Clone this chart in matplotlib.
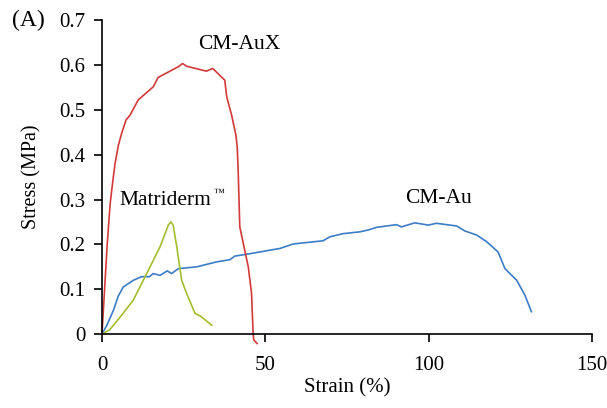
import numpy as np
import matplotlib
matplotlib.use('Agg')
import matplotlib.pyplot as plt

plt.rcParams['font.family'] = ['Liberation Serif', 'DejaVu Serif']

# CM-AuX (red)
auX_strain = [0, 0.8, 1.6, 2.5, 3.3, 4.0, 5.0, 6.0, 7.35, 8.6, 11.1, 15.7, 17.2, 23.4, 24.7, 25.9,
              32.0, 33.9, 37.6, 38.2, 39.7, 41.0, 41.4, 41.7, 42.2, 44.8, 45.8, 46.3, 46.5, 47.5]
auX_stress = [0, 0.10, 0.20, 0.29, 0.34, 0.38, 0.42, 0.447, 0.477, 0.488, 0.522, 0.551, 0.572, 0.596, 0.603, 0.597,
              0.586, 0.592, 0.566, 0.529, 0.488, 0.444, 0.418, 0.366, 0.239, 0.150, 0.091, 0.0, -0.013, -0.021]

# Matriderm (green)
mat_strain = [0, 2.4, 6.0, 9.6, 13.7, 17.8, 20.3, 21.1, 21.8, 22.9, 24.4, 25.9, 28.5, 30.0, 33.6]
mat_stress = [0, 0.010, 0.042, 0.076, 0.135, 0.195, 0.243, 0.250, 0.243, 0.195, 0.120, 0.091, 0.046, 0.041, 0.020]

# CM-Au (blue)
au_strain = [0, 1.5, 3.5, 5.0, 6.5, 9.6, 12.1, 14.5, 15.7, 17.8, 20.0, 21.3, 23.4, 29.0, 35.1, 39.2, 40.7, 44.3,
             54.5, 58.6, 67.7, 69.8, 73.9, 79.0, 81.5, 84.1, 90.2, 91.7, 95.8, 99.9, 102.4, 108.6, 111.1,
             114.7, 117.8, 121.3, 123.4, 127.0, 129.5, 131.5]
au_stress = [0, 0.020, 0.053, 0.085, 0.105, 0.120, 0.128, 0.128, 0.135, 0.131, 0.141, 0.135, 0.146, 0.150, 0.161,
             0.166, 0.174, 0.178, 0.191, 0.201, 0.208, 0.217, 0.224, 0.228, 0.232, 0.238, 0.244, 0.239, 0.248,
             0.243, 0.247, 0.241, 0.230, 0.221, 0.206, 0.183, 0.146, 0.120, 0.087, 0.050]

x_ticks = [0, 50, 100, 150]
y_ticks = [0, 0.1, 0.2, 0.3, 0.4, 0.5, 0.6, 0.7]
y_ticklabels = ['0', '0.1', '0.2', '0.3', '0.4', '0.5', '0.6', '0.7']

fig = plt.figure(figsize=(6.07, 4.08), dpi=100)
ax = fig.add_axes([0.168, 0.181, 0.807, 0.770])

ax.plot(au_strain, au_stress, color='#3D7DC6', lw=1.2, clip_on=False)
ax.plot(mat_strain, mat_stress, color='#A3BE2D', lw=1.2, clip_on=False)
ax.plot(auX_strain, auX_stress, color='#D23A3A', lw=1.2, clip_on=False)

ax.set_xlim(0, 150)
ax.set_ylim(0, 0.7)
ax.set_xticks(x_ticks)
ax.set_yticks(y_ticks)
ax.set_yticklabels(y_ticklabels)
ax.spines['top'].set_visible(False)
ax.spines['right'].set_visible(False)
for s in ['left', 'bottom']:
    ax.spines[s].set_linewidth(1.2)
ax.tick_params(axis='both', direction='out', length=6, width=1.2, labelsize=15)
ax.tick_params(axis='x', pad=10)
ax.tick_params(axis='y', pad=6)

ax.set_xlabel('Strain (%)', fontsize=15, labelpad=2)
ax.set_ylabel('Stress (MPa)', fontsize=14.5, labelpad=13)

ax.text(42, 0.645, 'CM-AuX', fontsize=15.5, ha='center', va='center')
ax.text(5.5, 0.297, 'Matriderm', fontsize=15.5, ha='left', va='center')
ax.text(35.8, 0.313, '\u2122', fontsize=8, ha='center', va='center')
ax.text(103, 0.302, 'CM-Au', fontsize=15.5, ha='center', va='center')
fig.text(0.047, 0.951, '(A)', fontsize=17, ha='center', va='center')

fig.savefig('out.png', dpi=100)
